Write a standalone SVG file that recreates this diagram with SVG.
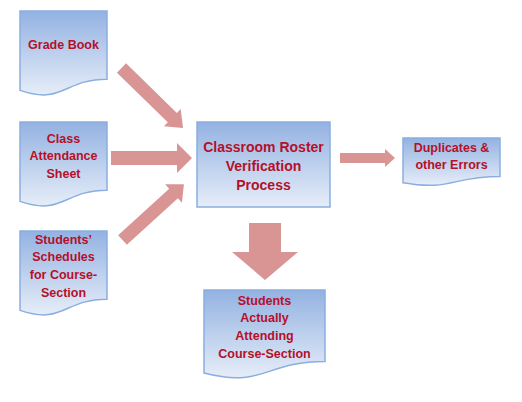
<svg xmlns="http://www.w3.org/2000/svg" width="522" height="402" viewBox="0 0 522 402">
<defs>
<linearGradient id="g" x1="0" y1="0" x2="0" y2="1">
<stop offset="0" stop-color="#93B2E2"/>
<stop offset="1" stop-color="#E6EDF8"/>
</linearGradient>
<style>
.box{fill:url(#g);stroke:#8AAEDF;stroke-width:1.5}
.arr{fill:#D99594;stroke:none}
text{font-family:"Liberation Sans",Arial,sans-serif;font-weight:bold;fill:#B5102A;text-anchor:middle}
.d{font-size:12.5px}
.p{font-size:14px}
</style>
</defs>
<rect width="522" height="402" fill="#FFFFFF"/>
<g id="connectors">
<polygon class="arr" transform="translate(121.5,68) rotate(44.3)" points="0,-6.5 71,-6.5 71,-12 86,0 71,12 71,6.5 0,6.5"/>
<polygon class="arr" points="111,151 177,151 177,143 192,158 177,173 177,165 111,165"/>
<polygon class="arr" transform="translate(122.5,240) rotate(-42.3)" points="0,-6.5 69,-6.5 69,-12.5 83,0 69,12.5 69,6.5 0,6.5"/>
<polygon class="arr" points="340,153 385,153 385,149 395,158 385,167 385,163 340,163"/>
<polygon class="arr" points="249,223 281,223 281,252 298,252 265,280 232,252 249,252"/>
</g>
<g id="grade-book">
<path class="box" d="M20,11 H107 V79.2 C63.5,79.2 63.5,105.1 20,90.4 Z"/>
<text class="d" x="63.5" y="48.5">Grade Book</text>
</g>
<g id="class-attendance">
<path class="box" d="M20,122 H107 V190.2 C63.5,190.2 63.5,216.1 20,201.4 Z"/>
<text class="d" x="63.5" y="142.5">Class</text>
<text class="d" x="63.5" y="160">Attendance</text>
<text class="d" x="63.5" y="177.5">Sheet</text>
</g>
<g id="students-schedules">
<path class="box" d="M20,231 H107 V299.2 C63.5,299.2 63.5,325.1 20,310.4 Z"/>
<text class="d" x="63.5" y="243.5">Students’</text>
<text class="d" x="63.5" y="261.3">Schedules</text>
<text class="d" x="63.5" y="279.1">for Course-</text>
<text class="d" x="63.5" y="296.9">Section</text>
</g>
<g id="process">
<rect class="box" x="197" y="122" width="133" height="85"/>
<text class="p" x="263.5" y="152">Classroom Roster</text>
<text class="p" x="263.5" y="171">Verification</text>
<text class="p" x="263.5" y="190">Process</text>
</g>
<g id="duplicates">
<path class="box" d="M403,138 H500 V176.5 C451.5,176.5 451.5,191.1 403,182.8 Z"/>
<text class="d" x="451.5" y="151.5">Duplicates &amp;</text>
<text class="d" x="451.5" y="168.5">other Errors</text>
</g>
<g id="students-attending">
<path class="box" d="M204,290 H325 V361.4 C264.5,361.4 264.5,388.5 204,373.1 Z"/>
<text class="d" x="264.5" y="304.5">Students</text>
<text class="d" x="264.5" y="322.2">Actually</text>
<text class="d" x="264.5" y="339.9">Attending</text>
<text class="d" x="264.5" y="357.6">Course-Section</text>
</g>
</svg>
